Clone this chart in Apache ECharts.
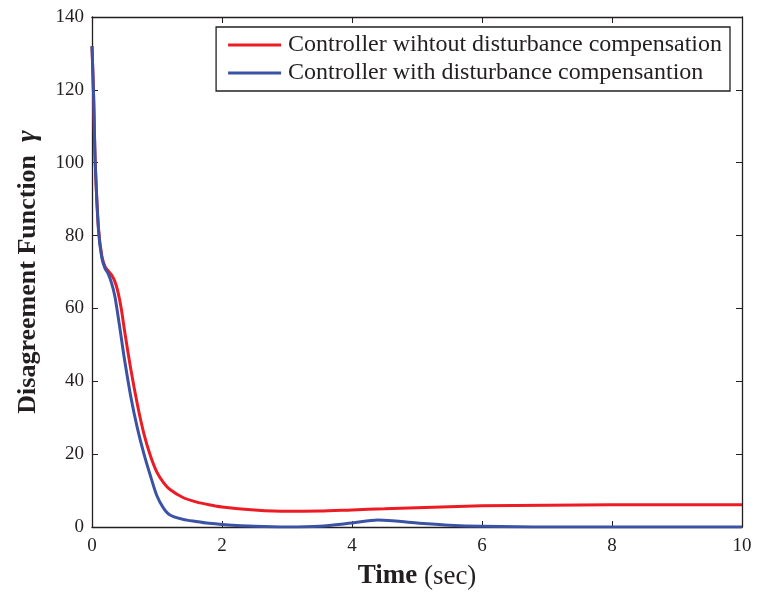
<!DOCTYPE html>
<html>
<head>
<meta charset="utf-8">
<script src="https://cdn.jsdelivr.net/npm/echarts@6/dist/echarts.min.js"></script>
<style>html,body{margin:0;padding:0;background:#fff}#c{width:757px;height:595px}</style>
</head>
<body>
<div id="c"></div>
<script>
var seriesNames = ['Controller wihtout disturbance compensation', 'Controller with disturbance compensantion'];
var timeRed  = [0, 0.025, 0.05, 0.1, 0.15, 0.2, 0.25, 0.3, 0.35, 0.4, 0.45, 0.5, 0.6, 0.7, 0.8, 0.9, 1.0, 1.1, 1.2, 1.4, 1.6, 1.8, 2.0, 2.5, 3.0, 3.5, 4.0, 4.5, 5.0, 6.0, 7.0, 8.0, 9.0, 10.0];
var valuesRed = [132, 118, 100, 82, 74.5, 71.5, 70.3, 69.2, 67.5, 64.5, 60, 54, 43, 33.5, 25.5, 19.5, 15, 12.2, 10.3, 8.1, 6.9, 6.1, 5.5, 4.7, 4.3, 4.4, 4.7, 5.0, 5.3, 5.8, 6.0, 6.1, 6.1, 6.1];
var timeBlue = [0, 0.025, 0.05, 0.1, 0.15, 0.2, 0.25, 0.3, 0.35, 0.4, 0.45, 0.5, 0.6, 0.7, 0.8, 0.9, 1.0, 1.1, 1.2, 1.4, 1.6, 1.8, 2.0, 2.5, 3.0, 3.5, 4.0, 4.4, 5.0, 5.5, 6.0, 7.0, 8.0, 9.0, 10.0];
var valuesBlue = [132, 118, 100, 81.5, 74, 71, 69.5, 67, 63.5, 58, 52, 46, 35.5, 27, 20, 14, 8.5, 5.2, 3.3, 2.1, 1.5, 1.0, 0.7, 0.2, 0, 0.2, 1.1, 1.9, 1.1, 0.5, 0.2, 0, 0, 0, 0];
var yTicks = [0, 20, 40, 60, 80, 100, 120, 140];
var xTicks = [0, 2, 4, 6, 8, 10];

function pairs(t, v){ return t.map(function(x,i){ return [x, v[i]]; }); }

var font = 'Liberation Serif';
var ink = '#231f20';
var chart = echarts.init(document.getElementById('c'), null, {renderer:'canvas'});
var axisLine = {show:true, onZero:false, lineStyle:{color:ink, width:1.3}};
var tick = {show:true, inside:true, length:6, lineStyle:{color:ink}};
chart.setOption({
  animation:false,
  backgroundColor:'#fff',
  grid:{left:92, right:15, top:17, bottom:66},
  legend:{
    data:seriesNames, orient:'vertical', right:27, top:27,
    itemWidth:53, itemHeight:3, itemGap:4,
    icon:'rect',
    borderColor:ink, borderWidth:1.3, padding:[6,8,6,12],
    backgroundColor:'#fff',
    textStyle:{fontFamily:font, fontSize:24, color:ink, padding:[0,0,0,2]}
  },
  xAxis:[{
    type:'value', min:xTicks[0], max:xTicks[xTicks.length-1], interval:2,
    axisLine:axisLine, axisTick:tick, splitLine:{show:false},
    axisLabel:{fontFamily:font, fontSize:19, color:ink, margin:10},
    name:'{b|Time} (sec)', nameLocation:'middle', nameGap:36,
    nameTextStyle:{fontFamily:font, fontSize:27, color:ink, rich:{b:{fontFamily:font, fontSize:27, fontWeight:'bold', color:ink}}}
  },{
    type:'value', position:'top', min:0, max:10, interval:2,
    axisLine:axisLine, axisTick:tick, axisLabel:{show:false}, splitLine:{show:false}
  }],
  yAxis:[{
    type:'value', min:yTicks[0], max:yTicks[yTicks.length-1], interval:20,
    axisLine:axisLine, axisTick:tick, splitLine:{show:false},
    axisLabel:{fontFamily:font, fontSize:19, color:ink, margin:8},
    name:'Disagreement Function  {g|γ}', nameLocation:'middle', nameGap:50,
    nameTextStyle:{fontFamily:font, fontSize:26, fontWeight:'bold', color:ink, rich:{g:{fontFamily:font, fontSize:28, fontStyle:'italic', color:ink}}}
  },{
    type:'value', position:'right', min:0, max:140, interval:20,
    axisLine:axisLine, axisTick:tick, axisLabel:{show:false}, splitLine:{show:false}
  }],
  series:[{
    name:seriesNames[0], type:'line', data:pairs(timeRed, valuesRed),
    showSymbol:false, smooth:0.3, lineStyle:{color:'#ed1c24', width:3}, itemStyle:{color:'#ed1c24'}, z:2
  },{
    name:seriesNames[1], type:'line', data:pairs(timeBlue, valuesBlue),
    showSymbol:false, smooth:0.3, lineStyle:{color:'#3a53a4', width:3}, itemStyle:{color:'#3a53a4'}, z:3
  }]
});
</script>
</body>
</html>
